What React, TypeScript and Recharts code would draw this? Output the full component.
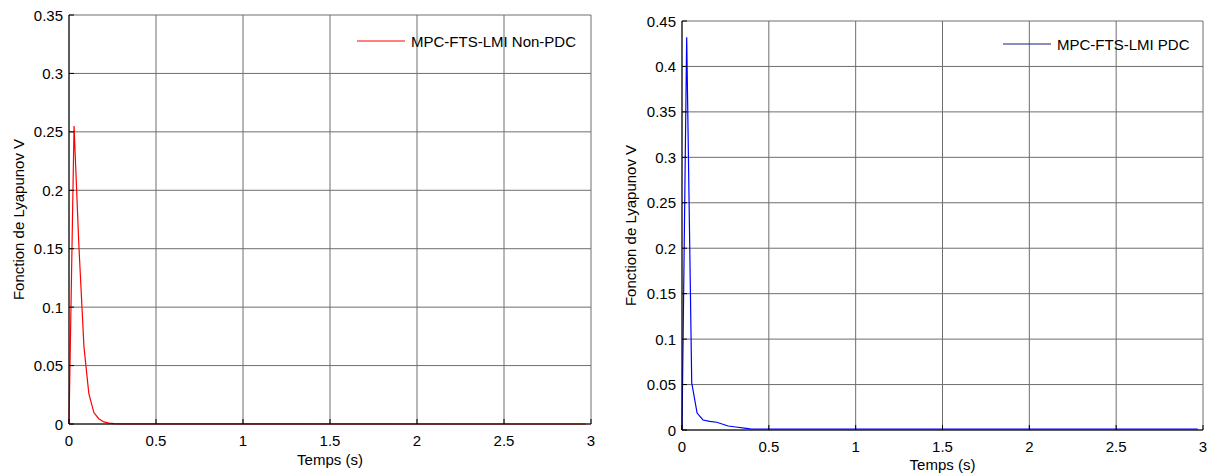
import { CartesianGrid, Label, Legend, Line, LineChart, XAxis, YAxis } from 'recharts';

const timeNonPdc = [0, 0.029, 0.057, 0.086, 0.114, 0.143, 0.171, 0.2, 0.23, 0.26, 0.3, 2.97];
const lyapNonPdc = [0, 0.255, 0.152, 0.066, 0.026, 0.0098, 0.0045, 0.0018, 0.0007, 0.0003, 0.0001, 0];

const timePdc = [0, 0.027, 0.056, 0.087, 0.121, 0.16, 0.2, 0.266, 0.31, 0.36, 0.4, 2.97];
const lyapPdc = [0, 0.432, 0.052, 0.0186, 0.011, 0.0095, 0.0085, 0.0044, 0.0033, 0.002, 0.0011, 0.0011];

const timeTicks = [0, 0.5, 1, 1.5, 2, 2.5, 3];
const lyapTicksNonPdc = [0, 0.05, 0.1, 0.15, 0.2, 0.25, 0.3, 0.35];
const lyapTicksPdc = [0, 0.05, 0.1, 0.15, 0.2, 0.25, 0.3, 0.35, 0.4, 0.45];

const FONT = '"Liberation Sans", Arial, sans-serif';
const FONT_SIZE = 15;

const nonPdcData = timeNonPdc.map((t, i) => ({ t, v: lyapNonPdc[i] }));
const pdcData = timePdc.map((t, i) => ({ t, v: lyapPdc[i] }));

// ticks point inwards, like matlab
function TimeTick({ x, y, payload }: any) {
  return (
    <g>
      <line x1={x} x2={x} y1={y} y2={y - 5} stroke="#000" />
      <text x={x} y={y + 16} textAnchor="middle" dominantBaseline="central" fontFamily={FONT} fontSize={FONT_SIZE} fill="#000">
        {payload.value}
      </text>
    </g>
  );
}

function LyapTick({ x, y, payload }: any) {
  return (
    <g>
      <line x1={x} x2={x + 5} y1={y} y2={y} stroke="#000" />
      <text x={x - 6} y={y} textAnchor="end" dominantBaseline="central" fontFamily={FONT} fontSize={FONT_SIZE} fill="#000">
        {payload.value}
      </text>
    </g>
  );
}

function xTitle(dy: number) {
  return ({ viewBox }: any) => (
    <text
      x={viewBox.x + viewBox.width / 2}
      y={viewBox.y + dy}
      textAnchor="middle"
      dominantBaseline="central"
      fontFamily={FONT}
      fontSize={FONT_SIZE}
      fill="#000"
    >
      Temps (s)
    </text>
  );
}

function yTitle(x: number) {
  return ({ viewBox }: any) => {
    const cy = viewBox.y + viewBox.height / 2;
    return (
      <text
        x={x}
        y={cy}
        transform={`rotate(-90 ${x} ${cy})`}
        textAnchor="middle"
        dominantBaseline="central"
        fontFamily={FONT}
        fontSize={FONT_SIZE}
        fill="#000"
      >
        Fonction de Lyapunov V
      </text>
    );
  };
}

function legendRow(label: string, color: string) {
  return () => (
    <div style={{ display: 'flex', alignItems: 'center', height: 20, fontFamily: FONT, fontSize: FONT_SIZE, color: '#000', whiteSpace: 'nowrap' }}>
      <svg width={48} height={2} style={{ marginRight: 6 }}>
        <line x1={0} x2={48} y1={1} y2={1} stroke={color} strokeWidth={1.2} />
      </svg>
      {label}
    </div>
  );
}

interface PanelProps {
  data: { t: number; v: number }[];
  yTicks: number[];
  yMax: number;
  color: string;
  legendColor: string;
  legendLabel: string;
  legendPos: { left: number; top: number };
  width: number;
  margin: { top: number; right: number; bottom: number; left: number };
  yAxisWidth: number;
  xTitleDy: number;
  yTitleX: number;
}

function LyapunovPanel(p: PanelProps) {
  return (
    <LineChart width={p.width} height={475} data={p.data} margin={p.margin}>
      <CartesianGrid stroke="#6e6e6e" strokeWidth={1} />
      <XAxis
        type="number"
        dataKey="t"
        domain={[0, 3]}
        ticks={timeTicks}
        height={30}
        tickSize={0}
        tickMargin={0}
        axisLine={{ stroke: '#000' }}
        tick={<TimeTick />}
        interval={0}
      >
        <Label content={xTitle(p.xTitleDy)} />
      </XAxis>
      <YAxis
        type="number"
        domain={[0, p.yMax]}
        ticks={p.yTicks}
        width={p.yAxisWidth}
        tickSize={0}
        tickMargin={0}
        axisLine={{ stroke: '#000' }}
        tick={<LyapTick />}
        interval={0}
      >
        <Label content={yTitle(p.yTitleX)} />
      </YAxis>
      <Legend
        verticalAlign="middle"
        content={legendRow(p.legendLabel, p.legendColor)}
        wrapperStyle={{ position: 'absolute', left: p.legendPos.left, top: p.legendPos.top, width: 'auto', height: 'auto' }}
      />
      <Line type="linear" dataKey="v" stroke={p.color} strokeWidth={1.2} dot={false} isAnimationActive={false} />
    </LineChart>
  );
}

export default function App() {
  return (
    <div style={{ position: 'absolute', left: 0, top: 0, width: 1217, height: 475, background: '#fff' }}>
      <div style={{ position: 'absolute', left: 0, top: 0 }}>
        <LyapunovPanel
          data={nonPdcData}
          yTicks={lyapTicksNonPdc}
          yMax={0.35}
          color="#ff0000"
          legendColor="#ff0000"
          legendLabel="MPC-FTS-LMI Non-PDC"
          legendPos={{ left: 357, top: 31 }}
          width={600}
          margin={{ top: 15, right: 9, bottom: 21, left: 0 }}
          yAxisWidth={69}
          xTitleDy={35}
          yTitleX={18}
        />
      </div>
      <div style={{ position: 'absolute', left: 600, top: 0 }}>
        <LyapunovPanel
          data={pdcData}
          yTicks={lyapTicksPdc}
          yMax={0.45}
          color="#0000ff"
          legendColor="#1a1a80"
          legendLabel="MPC-FTS-LMI PDC"
          legendPos={{ left: 403, top: 34 }}
          width={617}
          margin={{ top: 21, right: 14, bottom: 15, left: 0 }}
          yAxisWidth={82}
          xTitleDy={34}
          yTitleX={30}
        />
      </div>
    </div>
  );
}
